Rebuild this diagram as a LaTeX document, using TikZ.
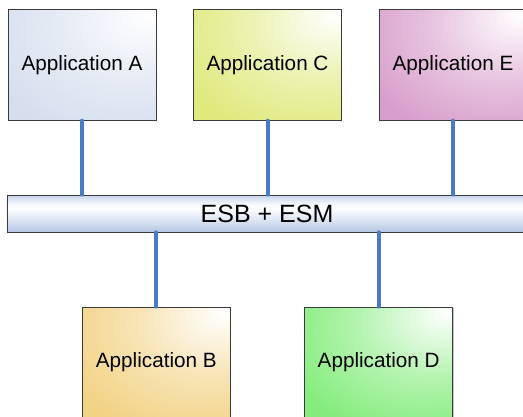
\documentclass[tikz,border=0pt]{standalone}
\usepackage{fontspec}
\setmainfont{Liberation Sans}
\usetikzlibrary{shadows}

% box fill colours
\definecolor{appA}{HTML}{D6DEEE}
\definecolor{appB}{HTML}{F2D285}
\definecolor{appC}{HTML}{DFE97C}
\definecolor{appD}{HTML}{84EC7C}
\definecolor{appE}{HTML}{D89ECB}
\definecolor{busTop}{HTML}{C4D3EB}
\definecolor{busMid}{HTML}{FAFCFF}
\definecolor{busBot}{HTML}{B4C6E4}
\definecolor{link}{HTML}{4A7BC4}
\definecolor{frame}{HTML}{3A3A3A}

% white glow towards the upper right corner of each box
% (only the inner -25bp..25bp square of a shading is shown)
\newcommand{\glowshading}[1]{%
  \pgfdeclareradialshading{glow#1}{\pgfpoint{23bp}{23bp}}{%
    color(0bp)=(white); color(6bp)=(white!85!#1); color(24bp)=(white!40!#1);
    color(46bp)=(#1); color(100bp)=(#1)}}
\glowshading{appA}
\glowshading{appB}
\glowshading{appC}
\glowshading{appD}
\glowshading{appE}
\pgfdeclareverticalshading{busband}{100bp}{%
  color(0bp)=(busBot); color(25bp)=(busBot); color(40bp)=(busBot!50!white);
  color(56bp)=(busMid); color(62bp)=(busMid); color(75bp)=(busTop);
  color(100bp)=(busTop)}

\tikzset{
  appbox/.style={draw=frame, line width=0.8pt, minimum width=148pt,
    minimum height=111pt, inner sep=0pt, font=\fontsize{20.7}{24}\selectfont,
    drop shadow={shadow xshift=0.9pt, shadow yshift=-0.9pt, opacity=0.45},
    shading=glow#1},
  bus/.style={draw=frame, line width=0.8pt, minimum width=520pt,
    minimum height=37pt, inner sep=0pt, font=\fontsize{25}{28}\selectfont,
    shading=busband},
  linkline/.style={draw=link, line width=4pt, line cap=round}
}

\begin{document}
\begin{tikzpicture}[x=1pt, y=-1pt]
  \useasboundingbox (0,0) rectangle (523,416);
  \clip (0,0) rectangle (523,416);

  % message bus
  \node[bus] (esb) at (267,213.5) {ESB + ESM};

  % applications above the bus
  \node[appbox=appA] (A) at (82,64.8)   {Application A};
  \node[appbox=appC] (C) at (267.5,64.8) {Application C};
  \node[appbox=appE] (E) at (453,64.8)  {Application E};

  % applications below the bus
  \node[appbox=appB] (B) at (156.3,362.5) {Application B};
  \node[appbox=appD] (D) at (378.7,362.5) {Application D};

  % attachments to the bus
  \draw[linkline] (A.south) -- (A.south |- esb.north);
  \draw[linkline] (C.south) -- (C.south |- esb.north);
  \draw[linkline] (E.south) -- (E.south |- esb.north);
  \draw[linkline] (B.north |- esb.south) -- (B.north);
  \draw[linkline] (D.north |- esb.south) -- (D.north);
\end{tikzpicture}
\end{document}
